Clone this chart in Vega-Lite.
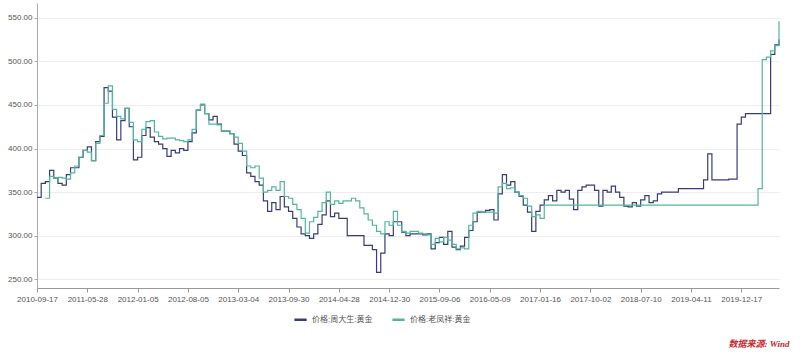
{
"$schema": "https://vega.github.io/schema/vega-lite/v6.json",
"autosize": {"type": "none"},
"width": 742,
"height": 285,
"padding": {"left": 37, "top": 3, "right": 21, "bottom": 65},
"background": "white",
"title": {"text": "数据来源: Wind", "orient": "bottom", "anchor": "end", "color": "#c8252c", "fontSize": 9, "fontStyle": "italic", "fontWeight": "bold", "offset": 15, "dx": 8, "font": "Liberation Serif, Noto Sans CJK SC"},
"data": {"values": [
{"date":"2010-09-17","价格:周大生:黄金":344,"价格:老凤祥:黄金":null},
{"date":"2010-10-08","价格:周大生:黄金":360,"价格:老凤祥:黄金":null},
{"date":"2010-10-29","价格:周大生:黄金":362,"价格:老凤祥:黄金":343},
{"date":"2010-11-19","价格:周大生:黄金":375,"价格:老凤祥:黄金":368},
{"date":"2010-12-10","价格:周大生:黄金":366,"价格:老凤祥:黄金":366},
{"date":"2010-12-31","价格:周大生:黄金":360,"价格:老凤祥:黄金":367},
{"date":"2011-01-21","价格:周大生:黄金":358,"价格:老凤祥:黄金":366},
{"date":"2011-02-11","价格:周大生:黄金":370,"价格:老凤祥:黄金":365},
{"date":"2011-03-04","价格:周大生:黄金":378,"价格:老凤祥:黄金":372},
{"date":"2011-03-25","价格:周大生:黄金":378,"价格:老凤祥:黄金":380},
{"date":"2011-04-15","价格:周大生:黄金":390,"价格:老凤祥:黄金":390},
{"date":"2011-05-06","价格:周大生:黄金":398,"价格:老凤祥:黄金":398},
{"date":"2011-05-28","价格:周大生:黄金":402,"价格:老凤祥:黄金":396},
{"date":"2011-06-15","价格:周大生:黄金":386,"价格:老凤祥:黄金":386},
{"date":"2011-07-03","价格:周大生:黄金":408,"价格:老凤祥:黄金":406},
{"date":"2011-07-21","价格:周大生:黄金":414,"价格:老凤祥:黄金":415},
{"date":"2011-08-08","价格:周大生:黄金":470,"价格:老凤祥:黄金":452},
{"date":"2011-08-26","价格:周大生:黄金":466,"价格:老凤祥:黄金":472},
{"date":"2011-09-13","价格:周大生:黄金":436,"价格:老凤祥:黄金":445},
{"date":"2011-10-01","价格:周大生:黄金":410,"价格:老凤祥:黄金":437},
{"date":"2011-10-19","价格:周大生:黄金":432,"价格:老凤祥:黄金":434},
{"date":"2011-11-06","价格:周大生:黄金":446,"价格:老凤祥:黄金":446},
{"date":"2011-11-24","价格:周大生:黄金":425,"价格:老凤祥:黄金":430},
{"date":"2011-12-12","价格:周大生:黄金":387,"价格:老凤祥:黄金":410},
{"date":"2012-01-05","价格:周大生:黄金":390,"价格:老凤祥:黄金":408},
{"date":"2012-01-23","价格:周大生:黄金":415,"价格:老凤祥:黄金":422},
{"date":"2012-02-10","价格:周大生:黄金":424,"价格:老凤祥:黄金":431},
{"date":"2012-02-28","价格:周大生:黄金":413,"价格:老凤祥:黄金":432},
{"date":"2012-03-17","价格:周大生:黄金":408,"价格:老凤祥:黄金":419},
{"date":"2012-04-04","价格:周大生:黄金":405,"价格:老凤祥:黄金":414},
{"date":"2012-04-22","价格:周大生:黄金":400,"价格:老凤祥:黄金":411},
{"date":"2012-05-10","价格:周大生:黄金":391,"价格:老凤祥:黄金":412},
{"date":"2012-05-28","价格:周大生:黄金":398,"价格:老凤祥:黄金":412},
{"date":"2012-06-15","价格:周大生:黄金":395,"价格:老凤祥:黄金":410},
{"date":"2012-07-03","价格:周大生:黄金":400,"价格:老凤祥:黄金":409},
{"date":"2012-07-21","价格:周大生:黄金":398,"价格:老凤祥:黄金":408},
{"date":"2012-08-05","价格:周大生:黄金":408,"价格:老凤祥:黄金":410},
{"date":"2012-08-23","价格:周大生:黄金":418,"价格:老凤祥:黄金":422},
{"date":"2012-09-10","价格:周大生:黄金":444,"价格:老凤祥:黄金":444},
{"date":"2012-09-28","价格:周大生:黄金":450,"价格:老凤祥:黄金":451},
{"date":"2012-10-16","价格:周大生:黄金":440,"价格:老凤祥:黄金":440},
{"date":"2012-11-03","价格:周大生:黄金":433,"价格:老凤祥:黄金":428},
{"date":"2012-11-21","价格:周大生:黄金":437,"价格:老凤祥:黄金":428},
{"date":"2012-12-09","价格:周大生:黄金":428,"价格:老凤祥:黄金":427},
{"date":"2012-12-27","价格:周大生:黄金":420,"价格:老凤祥:黄金":420},
{"date":"2013-01-14","价格:周大生:黄金":420,"价格:老凤祥:黄金":420},
{"date":"2013-02-01","价格:周大生:黄金":417,"价格:老凤祥:黄金":417},
{"date":"2013-02-16","价格:周大生:黄金":405,"价格:老凤祥:黄金":413},
{"date":"2013-03-04","价格:周大生:黄金":397,"价格:老凤祥:黄金":406},
{"date":"2013-03-22","价格:周大生:黄金":392,"价格:老凤祥:黄金":397},
{"date":"2013-04-09","价格:周大生:黄金":372,"价格:老凤祥:黄金":380},
{"date":"2013-04-27","价格:周大生:黄金":368,"价格:老凤祥:黄金":378},
{"date":"2013-05-15","价格:周大生:黄金":362,"价格:老凤祥:黄金":380},
{"date":"2013-06-02","价格:周大生:黄金":358,"价格:老凤祥:黄金":366},
{"date":"2013-06-20","价格:周大生:黄金":340,"价格:老凤祥:黄金":350},
{"date":"2013-07-08","价格:周大生:黄金":328,"价格:老凤祥:黄金":352},
{"date":"2013-07-26","价格:周大生:黄金":338,"价格:老凤祥:黄金":356},
{"date":"2013-08-13","价格:周大生:黄金":330,"价格:老凤祥:黄金":352},
{"date":"2013-08-31","价格:周大生:黄金":345,"价格:老凤祥:黄金":362},
{"date":"2013-09-15","价格:周大生:黄金":333,"价格:老凤祥:黄金":345},
{"date":"2013-09-30","价格:周大生:黄金":328,"价格:老凤祥:黄金":343},
{"date":"2013-10-18","价格:周大生:黄金":320,"价格:老凤祥:黄金":336},
{"date":"2013-11-05","价格:周大生:黄金":310,"价格:老凤祥:黄金":330},
{"date":"2013-11-23","价格:周大生:黄金":302,"价格:老凤祥:黄金":320},
{"date":"2013-12-11","价格:周大生:黄金":300,"价格:老凤祥:黄金":303},
{"date":"2013-12-29","价格:周大生:黄金":297,"价格:老凤祥:黄金":316},
{"date":"2014-01-16","价格:周大生:黄金":302,"价格:老凤祥:黄金":321},
{"date":"2014-02-03","价格:周大生:黄金":313,"价格:老凤祥:黄金":328},
{"date":"2014-02-21","价格:周大生:黄金":324,"价格:老凤祥:黄金":338},
{"date":"2014-03-11","价格:周大生:黄金":340,"价格:老凤祥:黄金":350},
{"date":"2014-03-29","价格:周大生:黄金":322,"价格:老凤祥:黄金":336},
{"date":"2014-04-13","价格:周大生:黄金":326,"价格:老凤祥:黄金":340},
{"date":"2014-04-28","价格:周大生:黄金":320,"价格:老凤祥:黄金":337},
{"date":"2014-05-18","价格:周大生:黄金":320,"价格:老凤祥:黄金":340},
{"date":"2014-06-07","价格:周大生:黄金":300,"价格:老凤祥:黄金":340},
{"date":"2014-06-27","价格:周大生:黄金":300,"价格:老凤祥:黄金":343},
{"date":"2014-07-17","价格:周大生:黄金":300,"价格:老凤祥:黄金":340},
{"date":"2014-08-06","价格:周大生:黄金":300,"价格:老凤祥:黄金":332},
{"date":"2014-08-26","价格:周大生:黄金":289,"价格:老凤祥:黄金":325},
{"date":"2014-09-15","价格:周大生:黄金":289,"价格:老凤祥:黄金":318},
{"date":"2014-10-05","价格:周大生:黄金":284,"价格:老凤祥:黄金":312},
{"date":"2014-10-25","价格:周大生:黄金":258,"价格:老凤祥:黄金":305},
{"date":"2014-11-14","价格:周大生:黄金":280,"价格:老凤祥:黄金":302},
{"date":"2014-12-04","价格:周大生:黄金":302,"价格:老凤祥:黄金":316},
{"date":"2014-12-30","价格:周大生:黄金":300,"价格:老凤祥:黄金":312},
{"date":"2015-01-19","价格:周大生:黄金":316,"价格:老凤祥:黄金":328},
{"date":"2015-02-08","价格:周大生:黄金":316,"价格:老凤祥:黄金":312},
{"date":"2015-02-28","价格:周大生:黄金":304,"价格:老凤祥:黄金":305},
{"date":"2015-03-20","价格:周大生:黄金":300,"价格:老凤祥:黄金":303},
{"date":"2015-04-09","价格:周大生:黄金":302,"价格:老凤祥:黄金":305},
{"date":"2015-04-29","价格:周大生:黄金":302,"价格:老凤祥:黄金":305},
{"date":"2015-05-19","价格:周大生:黄金":302,"价格:老凤祥:黄金":303},
{"date":"2015-06-08","价格:周大生:黄金":301,"价格:老凤祥:黄金":302},
{"date":"2015-06-28","价格:周大生:黄金":302,"价格:老凤祥:黄金":301},
{"date":"2015-07-18","价格:周大生:黄金":285,"价格:老凤祥:黄金":290},
{"date":"2015-08-07","价格:周大生:黄金":292,"价格:老凤祥:黄金":297},
{"date":"2015-09-06","价格:周大生:黄金":298,"价格:老凤祥:黄金":293},
{"date":"2015-09-26","价格:周大生:黄金":290,"价格:老凤祥:黄金":298},
{"date":"2015-10-16","价格:周大生:黄金":305,"价格:老凤祥:黄金":295},
{"date":"2015-11-05","价格:周大生:黄金":287,"价格:老凤祥:黄金":290},
{"date":"2015-11-25","价格:周大生:黄金":284,"价格:老凤祥:黄金":285},
{"date":"2015-12-15","价格:周大生:黄金":288,"价格:老凤祥:黄金":286},
{"date":"2016-01-04","价格:周大生:黄金":298,"价格:老凤祥:黄金":285},
{"date":"2016-01-24","价格:周大生:黄金":306,"价格:老凤祥:黄金":312},
{"date":"2016-02-13","价格:周大生:黄金":316,"价格:老凤祥:黄金":326},
{"date":"2016-03-04","价格:周大生:黄金":327,"价格:老凤祥:黄金":328},
{"date":"2016-03-24","价格:周大生:黄金":327,"价格:老凤祥:黄金":327},
{"date":"2016-04-13","价格:周大生:黄金":329,"价格:老凤祥:黄金":327},
{"date":"2016-05-09","价格:周大生:黄金":330,"价格:老凤祥:黄金":327},
{"date":"2016-05-30","价格:周大生:黄金":318,"价格:老凤祥:黄金":326},
{"date":"2016-06-20","价格:周大生:黄金":348,"价格:老凤祥:黄金":356},
{"date":"2016-07-11","价格:周大生:黄金":370,"价格:老凤祥:黄金":360},
{"date":"2016-08-01","价格:周大生:黄金":358,"价格:老凤祥:黄金":354},
{"date":"2016-08-22","价格:周大生:黄金":362,"价格:老凤祥:黄金":355},
{"date":"2016-09-12","价格:周大生:黄金":350,"价格:老凤祥:黄金":350},
{"date":"2016-10-03","价格:周大生:黄金":345,"价格:老凤祥:黄金":346},
{"date":"2016-10-24","价格:周大生:黄金":335,"价格:老凤祥:黄金":343},
{"date":"2016-11-14","价格:周大生:黄金":327,"价格:老凤祥:黄金":334},
{"date":"2016-12-05","价格:周大生:黄金":305,"价格:老凤祥:黄金":322},
{"date":"2016-12-26","价格:周大生:黄金":328,"价格:老凤祥:黄金":324},
{"date":"2017-01-16","价格:周大生:黄金":335,"价格:老凤祥:黄金":320},
{"date":"2017-02-06","价格:周大生:黄金":341,"价格:老凤祥:黄金":335},
{"date":"2017-02-27","价格:周大生:黄金":346,"价格:老凤祥:黄金":335},
{"date":"2017-03-20","价格:周大生:黄金":340,"价格:老凤祥:黄金":335},
{"date":"2017-04-10","价格:周大生:黄金":352,"价格:老凤祥:黄金":335},
{"date":"2017-05-01","价格:周大生:黄金":350,"价格:老凤祥:黄金":335},
{"date":"2017-05-22","价格:周大生:黄金":352,"价格:老凤祥:黄金":335},
{"date":"2017-06-12","价格:周大生:黄金":342,"价格:老凤祥:黄金":335},
{"date":"2017-07-03","价格:周大生:黄金":330,"价格:老凤祥:黄金":335},
{"date":"2017-07-24","价格:周大生:黄金":352,"价格:老凤祥:黄金":335},
{"date":"2017-08-14","价格:周大生:黄金":356,"价格:老凤祥:黄金":335},
{"date":"2017-09-04","价格:周大生:黄金":358,"价格:老凤祥:黄金":335},
{"date":"2017-10-02","价格:周大生:黄金":358,"价格:老凤祥:黄金":335},
{"date":"2017-10-25","价格:周大生:黄金":352,"价格:老凤祥:黄金":335},
{"date":"2017-11-17","价格:周大生:黄金":334,"价格:老凤祥:黄金":335},
{"date":"2017-12-10","价格:周大生:黄金":352,"价格:老凤祥:黄金":335},
{"date":"2018-01-02","价格:周大生:黄金":350,"价格:老凤祥:黄金":335},
{"date":"2018-01-25","价格:周大生:黄金":357,"价格:老凤祥:黄金":335},
{"date":"2018-02-17","价格:周大生:黄金":350,"价格:老凤祥:黄金":335},
{"date":"2018-03-12","价格:周大生:黄金":344,"价格:老凤祥:黄金":335},
{"date":"2018-04-04","价格:周大生:黄金":334,"价格:老凤祥:黄金":335},
{"date":"2018-04-27","价格:周大生:黄金":333,"价格:老凤祥:黄金":335},
{"date":"2018-05-20","价格:周大生:黄金":338,"价格:老凤祥:黄金":335},
{"date":"2018-06-12","价格:周大生:黄金":334,"价格:老凤祥:黄金":335},
{"date":"2018-07-10","价格:周大生:黄金":341,"价格:老凤祥:黄金":335},
{"date":"2018-08-02","价格:周大生:黄金":346,"价格:老凤祥:黄金":335},
{"date":"2018-08-25","价格:周大生:黄金":338,"价格:老凤祥:黄金":335},
{"date":"2018-09-17","价格:周大生:黄金":340,"价格:老凤祥:黄金":335},
{"date":"2018-10-10","价格:周大生:黄金":348,"价格:老凤祥:黄金":335},
{"date":"2018-11-02","价格:周大生:黄金":350,"价格:老凤祥:黄金":335},
{"date":"2018-11-25","价格:周大生:黄金":350,"价格:老凤祥:黄金":335},
{"date":"2018-12-18","价格:周大生:黄金":350,"价格:老凤祥:黄金":335},
{"date":"2019-01-10","价格:周大生:黄金":350,"价格:老凤祥:黄金":335},
{"date":"2019-02-02","价格:周大生:黄金":354,"价格:老凤祥:黄金":335},
{"date":"2019-02-25","价格:周大生:黄金":354,"价格:老凤祥:黄金":335},
{"date":"2019-03-20","价格:周大生:黄金":354,"价格:老凤祥:黄金":335},
{"date":"2019-04-11","价格:周大生:黄金":354,"价格:老凤祥:黄金":335},
{"date":"2019-05-02","价格:周大生:黄金":354,"价格:老凤祥:黄金":335},
{"date":"2019-05-23","价格:周大生:黄金":354,"价格:老凤祥:黄金":335},
{"date":"2019-06-13","价格:周大生:黄金":364,"价格:老凤祥:黄金":335},
{"date":"2019-07-04","价格:周大生:黄金":394,"价格:老凤祥:黄金":335},
{"date":"2019-07-25","价格:周大生:黄金":364,"价格:老凤祥:黄金":335},
{"date":"2019-08-15","价格:周大生:黄金":364,"价格:老凤祥:黄金":335},
{"date":"2019-09-05","价格:周大生:黄金":364,"价格:老凤祥:黄金":335},
{"date":"2019-09-26","价格:周大生:黄金":364,"价格:老凤祥:黄金":335},
{"date":"2019-10-17","价格:周大生:黄金":365,"价格:老凤祥:黄金":335},
{"date":"2019-11-07","价格:周大生:黄金":365,"价格:老凤祥:黄金":335},
{"date":"2019-11-28","价格:周大生:黄金":428,"价格:老凤祥:黄金":335},
{"date":"2019-12-17","价格:周大生:黄金":436,"价格:老凤祥:黄金":335},
{"date":"2020-01-07","价格:周大生:黄金":440,"价格:老凤祥:黄金":335},
{"date":"2020-01-28","价格:周大生:黄金":440,"价格:老凤祥:黄金":335},
{"date":"2020-02-18","价格:周大生:黄金":440,"价格:老凤祥:黄金":335},
{"date":"2020-03-10","价格:周大生:黄金":440,"价格:老凤祥:黄金":354},
{"date":"2020-03-31","价格:周大生:黄金":440,"价格:老凤祥:黄金":502},
{"date":"2020-04-21","价格:周大生:黄金":440,"价格:老凤祥:黄金":505},
{"date":"2020-05-12","价格:周大生:黄金":508,"价格:老凤祥:黄金":512},
{"date":"2020-06-02","价格:周大生:黄金":519,"价格:老凤祥:黄金":518},
{"date":"2020-06-23","价格:周大生:黄金":525,"价格:老凤祥:黄金":546}
]},
"transform": [{"fold": ["价格:周大生:黄金", "价格:老凤祥:黄金"], "as": ["series", "value"]}],
"mark": {"type": "line", "strokeWidth": 1.2, "interpolate": "step-after"},
"encoding": {
  "x": {"field": "date", "type": "ordinal", "scale": {"type": "point", "padding": 0},
    "axis": {"title": null, "labelAngle": 0, "values": ["2010-09-17","2011-05-28","2012-01-05","2012-08-05","2013-03-04","2013-09-30","2014-04-28","2014-12-30","2015-09-06","2016-05-09","2017-01-16","2017-10-02","2018-07-10","2019-04-11","2019-12-17"],
      "labelFontSize": 8, "labelColor": "#555555", "domainColor": "#999999", "tickColor": "#999999", "tickSize": 4, "labelPadding": 3, "grid": false}},
  "y": {"field": "value", "type": "quantitative", "scale": {"domain": [240, 567], "nice": false, "zero": false},
    "axis": {"title": null, "values": [250, 300, 350, 400, 450, 500, 550], "format": ".2f", "labelFontSize": 8, "labelColor": "#555555", "domainColor": "#aaaaaa", "tickColor": "#aaaaaa", "tickSize": 3, "labelPadding": 2, "gridColor": "#eeeeee"}},
  "color": {"field": "series", "type": "nominal",
    "scale": {"domain": ["价格:周大生:黄金", "价格:老凤祥:黄金"], "range": ["#373d7b", "#52b89a"]},
    "legend": {"title": null, "orient": "none", "direction": "horizontal", "legendX": 256, "legendY": 309, "symbolType": "stroke", "symbolSize": 150, "symbolStrokeWidth": 2.5, "labelFontSize": 8, "labelColor": "#555555", "columnPadding": 14}}
},
"config": {"view": {"stroke": null}, "font": "Liberation Sans, Noto Sans CJK SC"}
}
